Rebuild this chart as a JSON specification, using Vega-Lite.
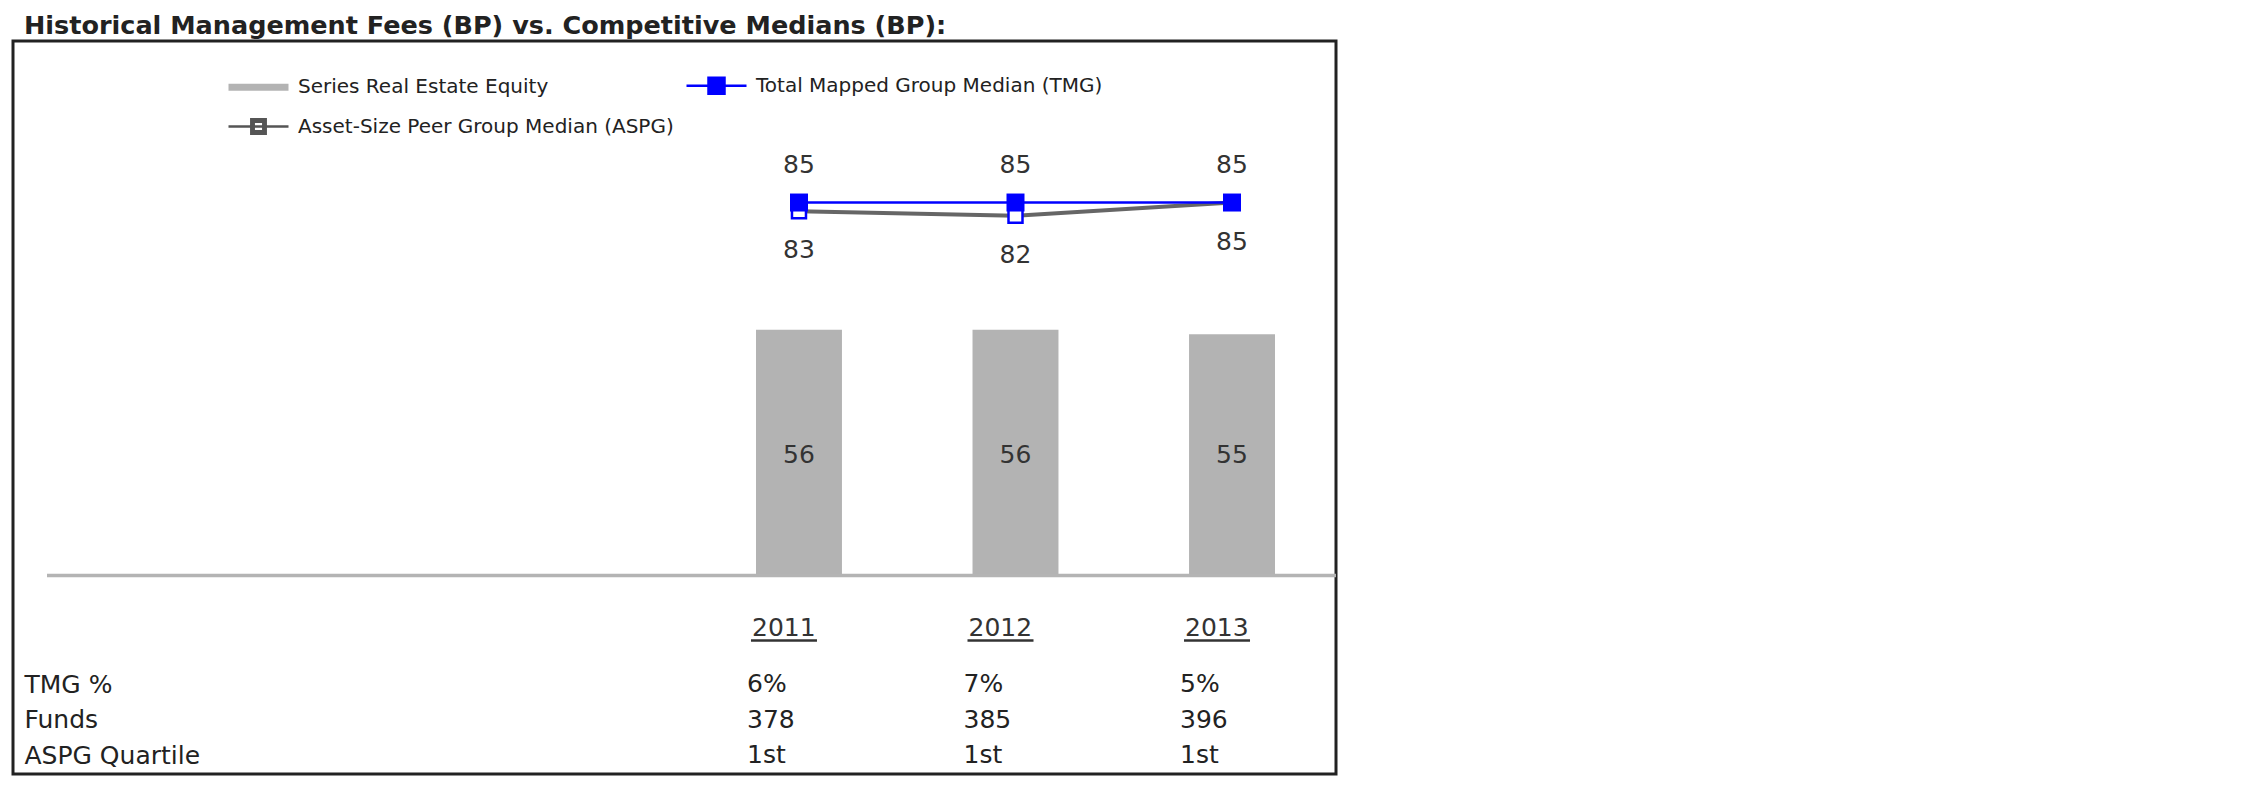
{
  "$schema": "https://vega.github.io/schema/vega-lite/v6.json",
  "width": 1323,
  "height": 733,
  "autosize": "none",
  "padding": {"left": 13, "top": 41, "right": 914, "bottom": 22},
  "background": "white",
  "title": {
    "text": "Historical Management Fees (BP) vs. Competitive Medians (BP):",
    "anchor": "start", "frame": "group", "orient": "top", "offset": 8,
    "baseline": "alphabetic", "dx": 11, "dy": 26,
    "font": "DejaVu Sans", "fontSize": 25.5, "fontWeight": "bold", "color": "#222222"
  },
  "datasets": {
    "fees": [
      {"year": "2011", "series": "Series Real Estate Equity", "bp": 56},
      {"year": "2012", "series": "Series Real Estate Equity", "bp": 56},
      {"year": "2013", "series": "Series Real Estate Equity", "bp": 55}
    ],
    "medians": [
      {"year": "2011", "series": "Total Mapped Group Median (TMG)", "bp": 85},
      {"year": "2012", "series": "Total Mapped Group Median (TMG)", "bp": 85},
      {"year": "2013", "series": "Total Mapped Group Median (TMG)", "bp": 85},
      {"year": "2011", "series": "Asset-Size Peer Group Median (ASPG)", "bp": 83},
      {"year": "2012", "series": "Asset-Size Peer Group Median (ASPG)", "bp": 82},
      {"year": "2013", "series": "Asset-Size Peer Group Median (ASPG)", "bp": 85}
    ],
    "table": [
      {"year": "2011", "row": "TMG %", "value": "6%"},
      {"year": "2011", "row": "Funds", "value": "378"},
      {"year": "2011", "row": "ASPG Quartile", "value": "1st"},
      {"year": "2012", "row": "TMG %", "value": "7%"},
      {"year": "2012", "row": "Funds", "value": "385"},
      {"year": "2012", "row": "ASPG Quartile", "value": "1st"},
      {"year": "2013", "row": "TMG %", "value": "5%"},
      {"year": "2013", "row": "Funds", "value": "396"},
      {"year": "2013", "row": "ASPG Quartile", "value": "1st"}
    ]
  },
  "layer": [
    {
      "layer": [
        {
          "data": {"name": "fees"},
          "mark": {"type": "bar"},
          "encoding": {
            "x": {"field": "year", "type": "nominal", "axis": null,
              "scale": {"type": "band", "domain": ["2011", "2012", "2013"], "range": [743, 1262], "paddingInner": 0.603, "paddingOuter": 0}},
            "y": {"field": "bp", "type": "quantitative", "axis": null,
              "scale": {"domain": [-45.2, 121.8], "zero": false, "nice": false}},
            "y2": {"datum": 0},
            "color": {"field": "series", "type": "nominal",
              "scale": {"domain": ["Series Real Estate Equity", "Total Mapped Group Median (TMG)", "Asset-Size Peer Group Median (ASPG)"],
                        "range": ["#b3b3b3", "#0000ff", "#666666"]},
              "legend": {
                "title": null, "orient": "none", "legendX": 224, "legendY": 23,
                "columns": 2, "direction": "horizontal", "padding": 0,
                "symbolSize": 1600, "symbolStrokeWidth": 2.5,
                "labelFont": "DejaVu Sans", "labelFontSize": 20, "labelColor": "#222222",
                "labelOffset": 18, "columnPadding": 7, "rowPadding": 6, "labelLimit": 0,
                "encode": {
                  "symbols": {
                    "update": {
                      "shape": {"signal": "datum.value === 'Series Real Estate Equity' ? 'M-1.5,-0.18H1.5V0.18H-1.5Z' : datum.value === 'Total Mapped Group Median (TMG)' ? 'M-1.5,0H1.5M-0.4,-0.4H0.4V0.4H-0.4Z' : 'M-1.5,0H1.5M-0.36,-0.36H0.36V0.36H-0.36ZM-0.24,-0.24V0.24H0.24V-0.24Z'"},
                      "fill": {"signal": "datum.value === 'Series Real Estate Equity' ? '#b3b3b3' : '#0000ff'"},
                      "stroke": {"signal": "datum.value === 'Asset-Size Peer Group Median (ASPG)' ? '#555555' : datum.value === 'Series Real Estate Equity' ? 'transparent' : '#0000ff'"},
                      "strokeWidth": {"value": 2.5},
                      "opacity": {"value": 1}
                    }
                  }
                }
              }
            }
          }
        },
        {
          "data": {"values": [{}]},
          "mark": {"type": "rule", "color": "#b4b4b4", "strokeWidth": 3.5, "x": 0, "xOffset": 34, "x2": "width", "x2Offset": -4},
          "encoding": {"y": {"datum": 0, "type": "quantitative"}}
        },
        {
          "data": {"name": "fees"},
          "mark": {"type": "text", "fontSize": 25, "color": "#333333", "baseline": "middle"},
          "encoding": {
            "x": {"field": "year", "type": "nominal"},
            "y": {"datum": 27.5, "type": "quantitative"},
            "text": {"field": "bp", "type": "quantitative"}
          }
        },
        {
          "data": {"name": "medians"},
          "transform": [{"filter": "datum.series === 'Asset-Size Peer Group Median (ASPG)'"}],
          "mark": {"type": "line", "color": "#666666", "strokeWidth": 4},
          "encoding": {
            "x": {"field": "year", "type": "nominal"},
            "y": {"field": "bp", "type": "quantitative"}
          }
        },
        {
          "data": {"name": "medians"},
          "transform": [{"filter": "datum.series === 'Asset-Size Peer Group Median (ASPG)'"}],
          "mark": {"type": "point", "shape": "square", "size": 196, "filled": true, "fill": "white", "stroke": "#0000ff", "strokeWidth": 2.5, "opacity": 1},
          "encoding": {
            "x": {"field": "year", "type": "nominal"},
            "y": {"field": "bp", "type": "quantitative"}
          }
        },
        {
          "data": {"name": "medians"},
          "transform": [{"filter": "datum.series === 'Total Mapped Group Median (TMG)'"}],
          "mark": {"type": "line", "color": "#0000ff", "strokeWidth": 2.5},
          "encoding": {
            "x": {"field": "year", "type": "nominal"},
            "y": {"field": "bp", "type": "quantitative"}
          }
        },
        {
          "data": {"name": "medians"},
          "transform": [{"filter": "datum.series === 'Total Mapped Group Median (TMG)'"}],
          "mark": {"type": "point", "shape": "square", "size": 324, "filled": true, "fill": "#0000ff", "strokeWidth": 0, "opacity": 1},
          "encoding": {
            "x": {"field": "year", "type": "nominal"},
            "y": {"field": "bp", "type": "quantitative"}
          }
        },
        {
          "data": {"name": "medians"},
          "transform": [{"filter": "datum.series === 'Total Mapped Group Median (TMG)'"}],
          "mark": {"type": "text", "fontSize": 25, "color": "#333333", "baseline": "middle", "dy": -38},
          "encoding": {
            "x": {"field": "year", "type": "nominal"},
            "y": {"field": "bp", "type": "quantitative"},
            "text": {"field": "bp", "type": "quantitative"}
          }
        },
        {
          "data": {"name": "medians"},
          "transform": [{"filter": "datum.series === 'Asset-Size Peer Group Median (ASPG)'"}],
          "mark": {"type": "text", "fontSize": 25, "color": "#333333", "baseline": "middle", "dy": 39},
          "encoding": {
            "x": {"field": "year", "type": "nominal"},
            "y": {"field": "bp", "type": "quantitative"},
            "text": {"field": "bp", "type": "quantitative"}
          }
        },
        {
          "data": {"name": "fees"},
          "mark": {"type": "text", "fontSize": 25, "color": "#333333", "baseline": "middle", "align": "left", "dx": -47},
          "encoding": {
            "x": {"field": "year", "type": "nominal"},
            "y": {"datum": -11.9, "type": "quantitative"},
            "text": {"field": "year", "type": "nominal"}
          }
        },
        {
          "data": {"name": "fees"},
          "mark": {"type": "tick", "orient": "horizontal", "size": 66, "thickness": 2.5, "color": "#333333", "xOffset": -15, "opacity": 1},
          "encoding": {
            "x": {"field": "year", "type": "nominal"},
            "y": {"datum": -14.8, "type": "quantitative"}
          }
        }
      ]
    },
    {
      "data": {"name": "table"},
      "mark": {"type": "text", "align": "left", "dx": -52, "baseline": "middle", "fontSize": 25, "color": "#222222"},
      "encoding": {
        "x": {"field": "year", "type": "nominal"},
        "y": {"field": "row", "type": "nominal",
          "scale": {"type": "point", "domain": ["TMG %", "Funds", "ASPG Quartile"], "range": [643, 714], "padding": 0},
          "axis": {"orient": "left", "title": null, "domain": false, "ticks": false, "grid": false,
            "labelAlign": "left", "labelPadding": -11, "labelFont": "DejaVu Sans", "labelFontSize": 25,
            "labelColor": "#222222", "labelBaseline": "middle", "labelLimit": 0}},
        "text": {"field": "value", "type": "nominal"}
      }
    }
  ],
  "resolve": {"scale": {"y": "independent"}},
  "config": {
    "font": "DejaVu Sans",
    "view": {"stroke": "#222222", "strokeWidth": 3}
  }
}
